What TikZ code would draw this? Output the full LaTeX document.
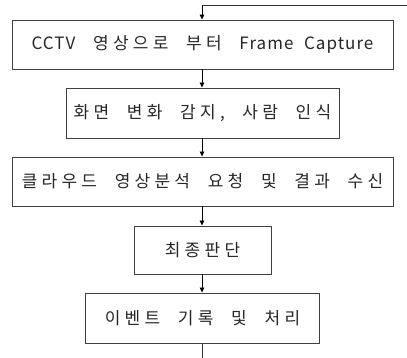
\documentclass[tikz,border=0pt]{standalone}
\usepackage{fontspec}
\newfontfamily\kr[LetterSpace=25,WordSpace=2.2]{Noto Sans CJK KR}
\newfontfamily\krl[LetterSpace=6,WordSpace=2.2]{Noto Sans CJK KR}
\usetikzlibrary{arrows.meta}
\begin{document}
\begin{tikzpicture}[x=1pt,y=-1pt,
  box/.style={draw=black!75, line width=0.9pt, inner sep=0pt, font=\kr\fontsize{17}{20}\selectfont, text=black!85},
  conn/.style={draw=black, line width=0.8pt, -{Triangle[length=5pt,width=4.5pt]}},
  plain/.style={draw=black!80, line width=0.8pt}]
\useasboundingbox (0,0) rectangle (407,358);
\node[box, minimum width=381pt, minimum height=49pt] (b1) at (202.5,44.5) {{\krl CCTV} 영상으로 부터 {\krl Frame Capture}};
\node[box, minimum width=273pt, minimum height=50pt] (b2) at (202.5,113) {화면 변화 감지, 사람 인식};
\node[box, minimum width=381pt, minimum height=49pt] (b3) at (202.5,181.5) {클라우드 영상분석 요청 및 결과 수신};
\node[box, minimum width=137pt, minimum height=48pt] (b4) at (202.5,250) {최종판단};
\node[box, minimum width=234pt, minimum height=50pt] (b5) at (202.5,318) {이벤트 기록 및 처리};
\coordinate (top) at (202,5.5);
\coordinate (rt) at (407,5.5);
\coordinate (bot) at (202,358);
\draw[plain] (rt) -- (top);
\draw[conn] (top) -- (top |- b1.north);
\draw[conn] (b1.south -| top) -- (b2.north -| top);
\draw[conn] (b2.south -| top) -- (b3.north -| top);
\draw[conn] (b3.south -| top) -- (b4.north -| top);
\draw[conn] (b4.south -| top) -- (b5.north -| top);
\draw[plain] (b5.south -| top) -- (bot);
\end{tikzpicture}
\end{document}
